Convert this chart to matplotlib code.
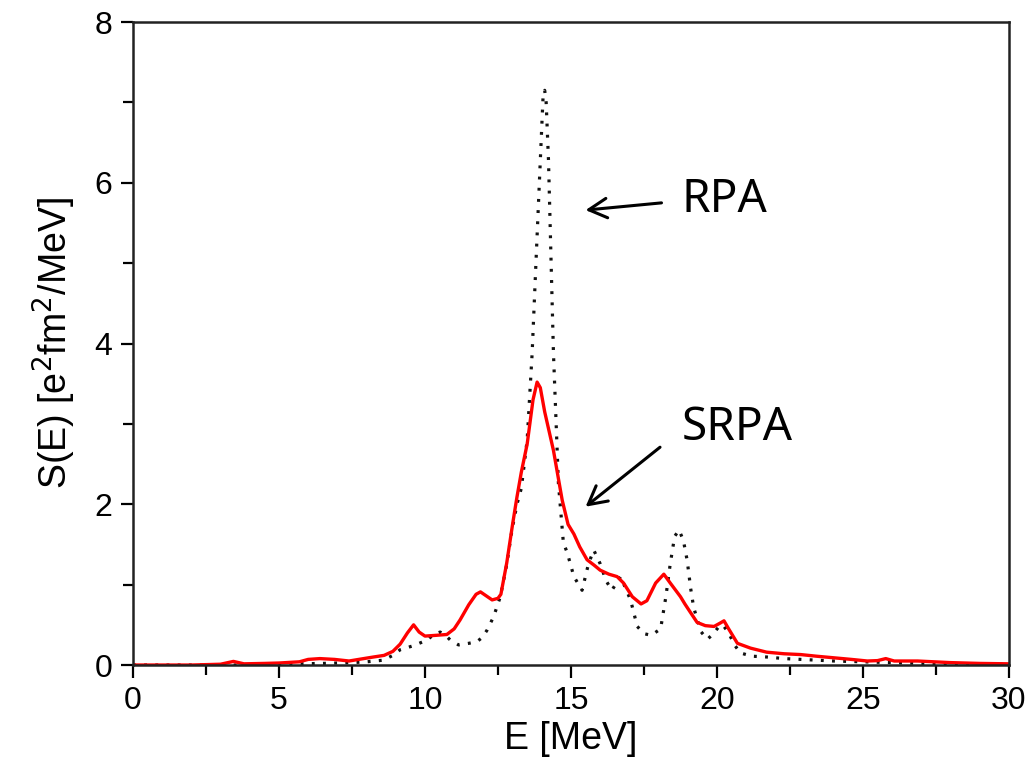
import numpy as np
import matplotlib
matplotlib.use('Agg')
import matplotlib.pyplot as plt
from matplotlib.ticker import MultipleLocator

plt.rcParams['font.family'] = ['Liberation Sans', 'DejaVu Sans']

# SRPA (красная сплошная)
E_srpa = [0, 2, 3.0, 3.44, 3.8, 4.5, 5.0, 5.7, 6.0, 6.4, 6.9, 7.4, 7.9, 8.24, 8.6, 8.9,
          9.15, 9.4, 9.61, 9.8, 10.0, 10.4, 10.75, 11.0, 11.2, 11.5, 11.75, 11.9, 12.1,
          12.3, 12.5, 12.6, 12.8, 13.0, 13.15, 13.3, 13.5, 13.7, 13.84, 13.95, 14.1,
          14.4, 14.7, 14.9, 15.1, 15.3, 15.55, 15.8, 16.0, 16.3, 16.58, 16.8, 17.1,
          17.4, 17.6, 17.9, 18.18, 18.4, 18.75, 18.9, 19.1, 19.32, 19.6, 19.9, 20.1,
          20.24, 20.4, 20.7, 21.15, 21.7, 22.3, 22.87, 23.4, 24.0, 24.6, 25.15, 25.5,
          25.78, 26.07, 26.87, 28.0, 29.0, 30.0]
S_srpa = [0.0, 0.0, 0.01, 0.045, 0.015, 0.02, 0.025, 0.04, 0.07, 0.08, 0.07, 0.05, 0.08,
          0.1, 0.12, 0.17, 0.26, 0.4, 0.5, 0.41, 0.36, 0.37, 0.38, 0.45, 0.56, 0.75,
          0.88, 0.91, 0.86, 0.81, 0.83, 0.88, 1.27, 1.75, 2.09, 2.4, 2.75, 3.3, 3.52,
          3.45, 3.15, 2.67, 2.05, 1.75, 1.63, 1.47, 1.31, 1.24, 1.18, 1.13, 1.1, 1.02,
          0.85, 0.76, 0.8, 1.02, 1.13, 1.02, 0.85, 0.76, 0.65, 0.53, 0.49, 0.48, 0.52,
          0.55, 0.45, 0.27, 0.21, 0.16, 0.14, 0.13, 0.11, 0.09, 0.07, 0.05, 0.055,
          0.08, 0.05, 0.05, 0.03, 0.02, 0.015]

# RPA (черная пунктирная)
E_rpa = [0, 5.0, 5.73, 6.5, 7.5, 8.0, 8.57, 8.9, 9.15, 9.6, 10.07, 10.3, 10.52, 10.7,
         10.87, 11.15, 11.5, 11.78, 11.95, 12.12, 12.35, 12.58, 12.8, 12.98, 13.15,
         13.3, 13.5, 13.67, 13.8, 13.95, 14.05, 14.1, 14.15, 14.23, 14.32, 14.4, 14.57,
         14.74, 14.87, 15.1, 15.38, 15.6, 15.78, 16.0, 16.2, 16.4, 16.7, 17.04, 17.27,
         17.5, 17.75, 18.07, 18.25, 18.4, 18.55, 18.7, 18.85, 18.98, 19.1, 19.2, 19.44,
         19.67, 19.85, 20.05, 20.2, 20.4, 20.6, 20.8, 21.2, 21.7, 22.3, 22.87, 24.0,
         25.0, 26.0, 27.0, 28.0, 30.0]
S_rpa = [0.0, 0.0, 0.015, 0.02, 0.03, 0.04, 0.06, 0.12, 0.19, 0.24, 0.31, 0.38, 0.41,
         0.37, 0.31, 0.25, 0.27, 0.29, 0.34, 0.43, 0.6, 0.85, 1.25, 1.68, 2.0, 2.2,
         2.8, 3.88, 5.0, 6.28, 7.12, 7.15, 7.0, 6.28, 5.0, 3.88, 2.26, 1.52, 1.4, 1.1,
         0.93, 1.26, 1.43, 1.26, 1.05, 0.93, 1.1, 0.81, 0.48, 0.39, 0.37, 0.45, 0.85,
         1.26, 1.6, 1.68, 1.55, 1.3, 0.95, 0.72, 0.42, 0.32, 0.38, 0.47, 0.5, 0.4,
         0.25, 0.15, 0.11, 0.1, 0.08, 0.07, 0.05, 0.04, 0.03, 0.02, 0.015, 0.01]

fig = plt.figure(figsize=(10.34, 7.81), dpi=100)
ax = fig.add_axes([0.1286, 0.1485, 0.8472, 0.8233])

ax.plot(E_rpa, S_rpa, color='#111111', lw=2.3, linestyle=(0, (0.9, 2.6)))
ax.plot(E_srpa, S_srpa, color='red', lw=2.4)

ax.set_xlim(0, 30)
ax.set_ylim(0, 8)
ax.xaxis.set_major_locator(MultipleLocator(5))
ax.xaxis.set_minor_locator(MultipleLocator(2.5))
ax.yaxis.set_major_locator(MultipleLocator(2))
ax.yaxis.set_minor_locator(MultipleLocator(1))
ax.tick_params(which='both', direction='out', width=1.6, top=False, right=False)
ax.tick_params(which='major', length=9, labelsize=23, pad=6)
ax.tick_params(which='minor', length=7)
for sp in ax.spines.values():
    sp.set_linewidth(1.8)
    sp.set_color('#222222')

ax.set_xlabel('E [MeV]', fontsize=27, labelpad=4)
ax.set_ylabel('S(E) [e$^2$fm$^2$/MeV]', fontsize=27, labelpad=12)

arrow = dict(arrowstyle='->,head_length=1.3,head_width=0.7', lw=2.2, color='black',
             shrinkA=0, shrinkB=0)
ax.annotate('', xy=(15.5, 5.66), xytext=(18.1, 5.75), arrowprops=arrow)
ax.annotate('', xy=(15.5, 1.97), xytext=(18.05, 2.71), arrowprops=arrow)
ax.text(18.8, 5.78, 'RPA', fontsize=33, family='Noto Sans', va='center', ha='left')
ax.text(18.8, 2.95, 'SRPA', fontsize=33, family='Noto Sans', va='center', ha='left')

fig.savefig('out.png', dpi=100)
